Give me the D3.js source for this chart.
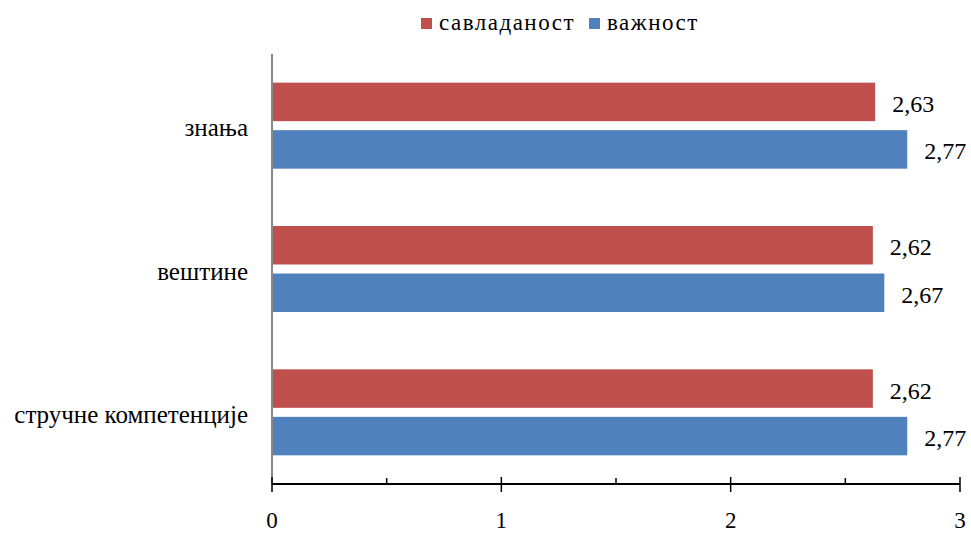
<!DOCTYPE html>
<html>
<head>
<meta charset="utf-8">
<script src="https://cdn.jsdelivr.net/npm/d3@7"></script>
<style>
  html, body { margin: 0; padding: 0; background: #fff; }
  svg { display: block; }
</style>
</head>
<body>
<svg id="chart" width="971" height="533"></svg>
<script>
const categories = ["знања", "вештине", "стручне компетенције"];
const seriesNames = ["савладаност", "важност"];
const seriesColors = ["#C0504D", "#4F81BD"];
const savladanost = [2.63, 2.62, 2.62];
const vaznost = [2.77, 2.67, 2.77];
const tickValues = [0, 1, 2, 3];
const minorTicks = [0.5, 1.5, 2.5];

const seriesValues = [savladanost, vaznost];
const fmt = v => d3.format(".2f")(v).replace(".", ",");
const FONT = "Liberation Serif";

const svg = d3.select("#chart");
const plotLeft = 272, plotRight = 960, plotTop = 54, plotBottom = 484;

const x = d3.scaleLinear().domain([0, 3]).range([plotLeft, plotRight]);
const y0 = d3.scaleBand().domain(categories).range([plotTop, plotBottom]).padding(0);
const groupH = 86;
const y1 = d3.scaleBand().domain(seriesNames).range([0, groupH]).paddingInner(0.19).paddingOuter(0);

// bars
categories.forEach((cat, ci) => {
  const g = svg.append("g")
    .attr("transform", `translate(0,${y0(cat) + y0.bandwidth() / 2 - groupH / 2})`);
  seriesNames.forEach((s, si) => {
    const v = seriesValues[si][ci];
    g.append("rect")
      .attr("x", x(0))
      .attr("y", y1(s))
      .attr("width", x(v) - x(0))
      .attr("height", y1.bandwidth())
      .attr("fill", seriesColors[si]);
    g.append("text")
      .attr("x", x(v) + 17)
      .attr("y", y1(s) + y1.bandwidth() / 2 + 10)
      .attr("font-family", FONT)
      .attr("font-size", 24)
      .attr("fill", "#000")
      .text(fmt(v));
  });
  svg.append("text")
    .attr("x", 248)
    .attr("y", y0(cat) + y0.bandwidth() / 2 + 10.5)
    .attr("text-anchor", "end")
    .attr("font-family", FONT)
    .attr("font-size", 25)
    .attr("fill", "#000")
    .text(cat);
});

// vertical axis line
svg.append("line")
  .attr("x1", x(0)).attr("x2", x(0))
  .attr("y1", plotTop).attr("y2", plotBottom)
  .attr("stroke", "#888").attr("stroke-width", 2);

// horizontal axis
const xAxis = svg.append("g");
xAxis.append("line")
  .attr("x1", x(0)).attr("x2", x(3))
  .attr("y1", plotBottom).attr("y2", plotBottom)
  .attr("stroke", "#000").attr("stroke-width", 2);
xAxis.selectAll(".major").data(tickValues).enter().append("line")
  .attr("x1", d => x(d)).attr("x2", d => x(d))
  .attr("y1", plotBottom - 7).attr("y2", plotBottom + 8)
  .attr("stroke", "#000").attr("stroke-width", 1.5);
xAxis.selectAll(".minor").data(minorTicks).enter().append("line")
  .attr("x1", d => x(d)).attr("x2", d => x(d))
  .attr("y1", plotBottom - 6).attr("y2", plotBottom)
  .attr("stroke", "#000").attr("stroke-width", 1.5);
xAxis.selectAll(".lbl").data(tickValues).enter().append("text")
  .attr("x", d => x(d))
  .attr("y", 528)
  .attr("text-anchor", "middle")
  .attr("font-family", FONT)
  .attr("font-size", 23)
  .attr("fill", "#000")
  .text(d => d);

// legend
const legendPos = [421, 589];
seriesNames.forEach((s, i) => {
  svg.append("rect")
    .attr("x", legendPos[i]).attr("y", 18)
    .attr("width", 11).attr("height", 11)
    .attr("fill", seriesColors[i]);
  svg.append("text")
    .attr("x", legendPos[i] + 18)
    .attr("y", 30)
    .attr("font-family", FONT)
    .attr("font-size", 23)
    .attr("letter-spacing", 1.5)
    .attr("fill", "#000")
    .text(s);
});
</script>
</body>
</html>
